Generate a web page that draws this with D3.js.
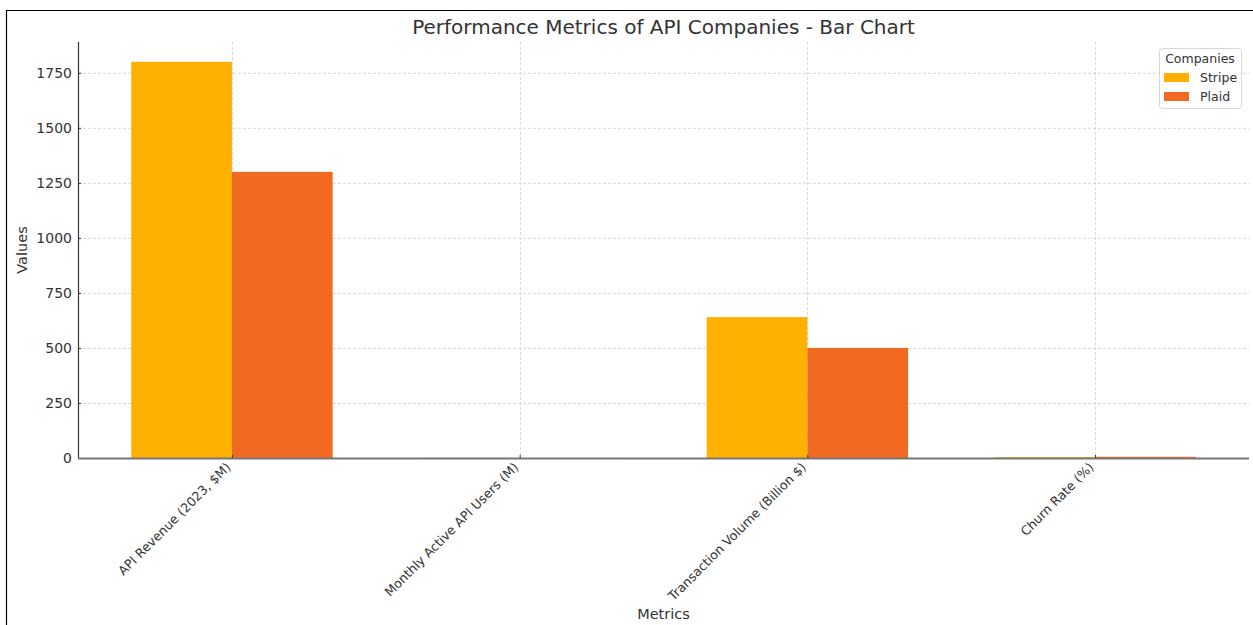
<!DOCTYPE html>
<html><head><meta charset="utf-8">
<script src="https://cdn.jsdelivr.net/npm/d3@7"></script>
<style>
body{margin:0;background:#fff;}
text{font-family:"DejaVu Sans",sans-serif;}
</style></head>
<body><svg id="c" width="1253" height="625"></svg>
<script>
const categories = ["API Revenue (2023, $M)","Monthly Active API Users (M)","Transaction Volume (Billion $)","Churn Rate (%)"];
const seriesNames = ["Stripe","Plaid"];
const stripeValues = [1800, 0.5, 640, 3.5];
const plaidValues = [1300, 0.3, 500, 5.5];
const yTicks = [0,250,500,750,1000,1250,1500,1750];
const colors = ["#ffb000","#f26a21"];

const svg = d3.select("#c");
const W=1253,H=625;
const m={l:78,r:1249,t:42,b:458};
// figure border (cropped)
svg.append("path").attr("d",`M6.5,${H} V10.5 H${W}`).attr("fill","none").attr("stroke","#000").attr("stroke-width",1.2);

const x = d3.scaleLinear().domain([-0.535,3.535]).range([m.l,m.r]);
const y = d3.scaleLinear().domain([0,1890]).range([m.b,m.t]);
const bw = 0.35;

const g=svg.append("g");
// grid
g.selectAll(".gy").data(yTicks).join("line").attr("x1",m.l).attr("x2",m.r)
 .attr("y1",d=>y(d)+0.5).attr("y2",d=>y(d)+0.5).attr("stroke","#cfcfcf").attr("stroke-dasharray","3,2").attr("stroke-width",0.8);
g.selectAll(".gx").data(categories).join("line").attr("y1",m.t).attr("y2",m.b)
 .attr("x1",(d,i)=>Math.round(x(i))+0.5).attr("x2",(d,i)=>Math.round(x(i))+0.5).attr("stroke","#cfcfcf").attr("stroke-dasharray","3,2").attr("stroke-width",0.8);

// bars
const allSeries=[stripeValues,plaidValues];
allSeries.forEach((vals,s)=>{
  g.selectAll(".b"+s).data(vals).join("rect")
   .attr("x",(d,i)=>x(i + (s===0?-bw:0)))
   .attr("width",x(bw)-x(0))
   .attr("y",d=>y(d)).attr("height",d=>y(0)-y(d))
   .attr("fill",colors[s]);
});

// y axis
const ya = d3.axisLeft(y).tickValues(yTicks).tickSize(-3).tickPadding(6).tickFormat(d3.format("d"));
const yg=svg.append("g").attr("transform",`translate(${m.l},0)`).call(ya);
yg.select(".domain").attr("stroke","#333").attr("stroke-width",1.2).attr("d",`M0.5,${m.b}V${m.t}`);
yg.selectAll(".tick line").attr("stroke","#333");
yg.selectAll(".tick text").attr("font-size",14).attr("fill","#333").attr("font-family","DejaVu Sans");

// x axis
const xa = d3.axisBottom(x).tickValues(d3.range(categories.length)).tickSize(-3).tickFormat(i=>categories[i]);
const xg=svg.append("g").attr("transform",`translate(0,${m.b})`).call(xa);
xg.select(".domain").attr("stroke","#777").attr("stroke-width",2).attr("d",`M${m.l},0.5H${m.r}`);
xg.selectAll(".tick line").attr("stroke","#333");
xg.selectAll(".tick text").attr("font-size",12.7).attr("fill","#333").attr("font-family","DejaVu Sans")
  .attr("text-anchor","end").attr("y",0).attr("dy",0)
  .attr("transform","translate(-1,10) rotate(-45)");

// labels
svg.append("text").attr("x",(m.l+m.r)/2).attr("y",34).attr("text-anchor","middle").attr("font-size",20).attr("fill","#333")
  .text("Performance Metrics of API Companies - Bar Chart");
svg.append("text").attr("x",(m.l+m.r)/2).attr("y",619).attr("text-anchor","middle").attr("font-size",14.5).attr("fill","#333").text("Metrics");
svg.append("text").attr("transform",`translate(27,${(m.t+m.b)/2}) rotate(-90)`).attr("text-anchor","middle").attr("font-size",14.5).attr("fill","#333").text("Values");

// legend
const lg=svg.append("g");
lg.append("rect").attr("x",1159.5).attr("y",48.5).attr("width",82).attr("height",60).attr("rx",3)
  .attr("fill","#fff").attr("fill-opacity",0.85).attr("stroke","#d8d8d8");
lg.append("text").attr("x",1200).attr("y",63).attr("text-anchor","middle").attr("font-size",12.5).attr("fill","#333").text("Companies");
seriesNames.forEach((n,i)=>{
  lg.append("rect").attr("x",1164).attr("y",73+i*19).attr("width",25).attr("height",9).attr("fill",colors[i]);
  lg.append("text").attr("x",1200).attr("y",82+i*19).attr("font-size",12.5).attr("fill","#333").text(n);
});
</script></body></html>
